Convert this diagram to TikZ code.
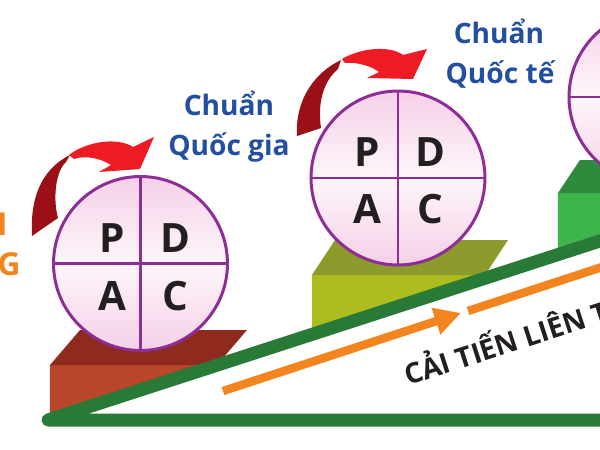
\documentclass[tikz,border=0pt]{standalone}
\usepackage{fontspec}
\setmainfont{Open Sans}
\usetikzlibrary{arrows.meta}
\definecolor{gline}{RGB}{42,122,55}
\definecolor{oline}{RGB}{242,133,31}
\definecolor{bluetext}{RGB}{36,79,160}
\definecolor{purp}{RGB}{142,45,150}
\definecolor{pinkc}{RGB}{246,208,232}
\definecolor{pinkw}{RGB}{253,246,250}
\definecolor{inkc}{RGB}{35,31,32}
\definecolor{rdark}{RGB}{155,16,22}
\definecolor{rbright}{RGB}{237,28,36}
\definecolor{bxatop}{RGB}{142,43,30}
\definecolor{bxafront}{RGB}{185,70,42}
\definecolor{bxbtop}{RGB}{140,155,43}
\definecolor{bxbfront}{RGB}{173,189,31}
\definecolor{bxctop}{RGB}{46,139,62}
\definecolor{bxcfront}{RGB}{61,181,74}
\begin{document}
\begin{tikzpicture}[x=0.02cm,y=-0.02cm,
  pdcacircle/.style={circle,draw=purp,line width=1.7pt,minimum size=3.48cm,inner sep=0pt,outer sep=0pt,
    top color=pinkc,bottom color=pinkc,middle color=pinkw},
  divider/.style={draw=purp,line width=1.7pt},
  pdcaletter/.style={text=inkc,font=\fontsize{23}{23}\selectfont\bfseries,inner sep=0pt},
  bluetxt/.style={text=bluetext,font=\fontsize{16}{20}\selectfont\bfseries,anchor=base,inner sep=0pt},
  orangetxt/.style={text=oline,font=\fontsize{18}{20}\selectfont\bfseries,anchor=base east,inner sep=0pt},
  greenline/.style={draw=gline,line width=7.4pt,line cap=round,line join=round},
  orangeline/.style={draw=oline,line width=4.8pt}
]
\useasboundingbox (0,0) rectangle (600,450);
\clip (0,0) rectangle (600,450);

% blocks
\fill[bxafront] (50,365) -- (222,365) -- (50,421) -- cycle;
\fill[bxatop] (50,365) -- (80,330) -- (247,330) -- (217,365) -- cycle;
\fill[bxbfront] (312,275) -- (490,275) -- (490,280) -- (312,337) -- cycle;
\fill[bxbtop] (312,275) -- (335,240) -- (508,240) -- (485,275) -- cycle;
\fill[bxcfront] (558,193) -- (610,193) -- (610,240) -- (558,257) -- cycle;
\fill[bxctop] (558,193) -- (580,160) -- (610,160) -- (610,193) -- cycle;

% green frame
\coordinate (gr) at (610,420);
\coordinate (gl) at (48,420);
\coordinate (gt) at (610,237.7);
\draw[greenline] (gr) -- (gl) -- (gt);

% orange arrow
\coordinate (oa) at (223,391);
\coordinate (ob) at (461,313);
\coordinate (oc) at (468,311);
\coordinate (od) at (610,264.4);
\draw[orangeline,-{Triangle[length=15pt,width=15pt]}] (oa) -- (ob);
\draw[orangeline] (oc) -- (od);

\node[text=inkc,font=\fontsize{16}{16}\selectfont\bfseries,anchor=base west,inner sep=0pt,rotate=17.9]
  (cai) at (408,386) {CẢI TIẾN LIÊN T};

% circles
\node[pdcacircle] (c1) at (140.5,263.5) {};
\draw[divider] (c1.north) -- (c1.south);
\draw[divider] (c1.west) -- (c1.east);
\node[pdcaletter] (p1) at (112,238) {P};
\node[pdcaletter] (d1) at (175,238) {D};
\node[pdcaletter] (a1) at (112,296) {A};
\node[pdcaletter] (k1) at (175,296) {C};

\node[pdcacircle] (c2) at (398,178) {};
\draw[divider] (c2.north) -- (c2.south);
\draw[divider] (c2.west) -- (c2.east);
\node[pdcaletter] (p2) at (367,152) {P};
\node[pdcaletter] (d2) at (430,152) {D};
\node[pdcaletter] (a2) at (367,209) {A};
\node[pdcaletter] (k2) at (430,209) {C};

\node[pdcacircle] (c3) at (656,97) {};
\draw[divider] (c3.north) -- (c3.south);
\draw[divider] (c3.west) -- (c3.east);

% red arrows
\fill[rdark] (32,236) .. controls (30,200) and (40,170) .. (70,155) -- (66,162) .. controls (55,172) and (53,200) .. (58,218) -- cycle;
\fill[rbright] (69,155) .. controls (87,141) and (118,137) .. (133,147) -- (154,137) -- (140,169) -- (99,172) -- (111,165) .. controls (100,158) and (85,155) .. (74,159) -- cycle;
\fill[rdark] (297,136) .. controls (295,105) and (310,75) .. (341,60) -- (338,69) .. controls (325,80) and (317,100) .. (321,128) -- cycle;
\fill[rbright] (342,59) .. controls (360,48) and (390,45) .. (403,55) -- (427,49) -- (413,79) -- (367,78) -- (379,72) .. controls (370,65) and (355,62) .. (345,63) -- cycle;

% labels
\node[bluetxt] (n1) at (229,115) {Chuẩn};
\node[bluetxt] (n2) at (229,155) {Quốc gia};
\node[bluetxt] (q1) at (499,43) {Chuẩn};
\node[bluetxt] (q2) at (500,83) {Quốc tế};
\node[orangetxt] (l1) at (8,235) {I};
\node[orangetxt] (l2) at (21,275) {G};
\end{tikzpicture}
\end{document}
